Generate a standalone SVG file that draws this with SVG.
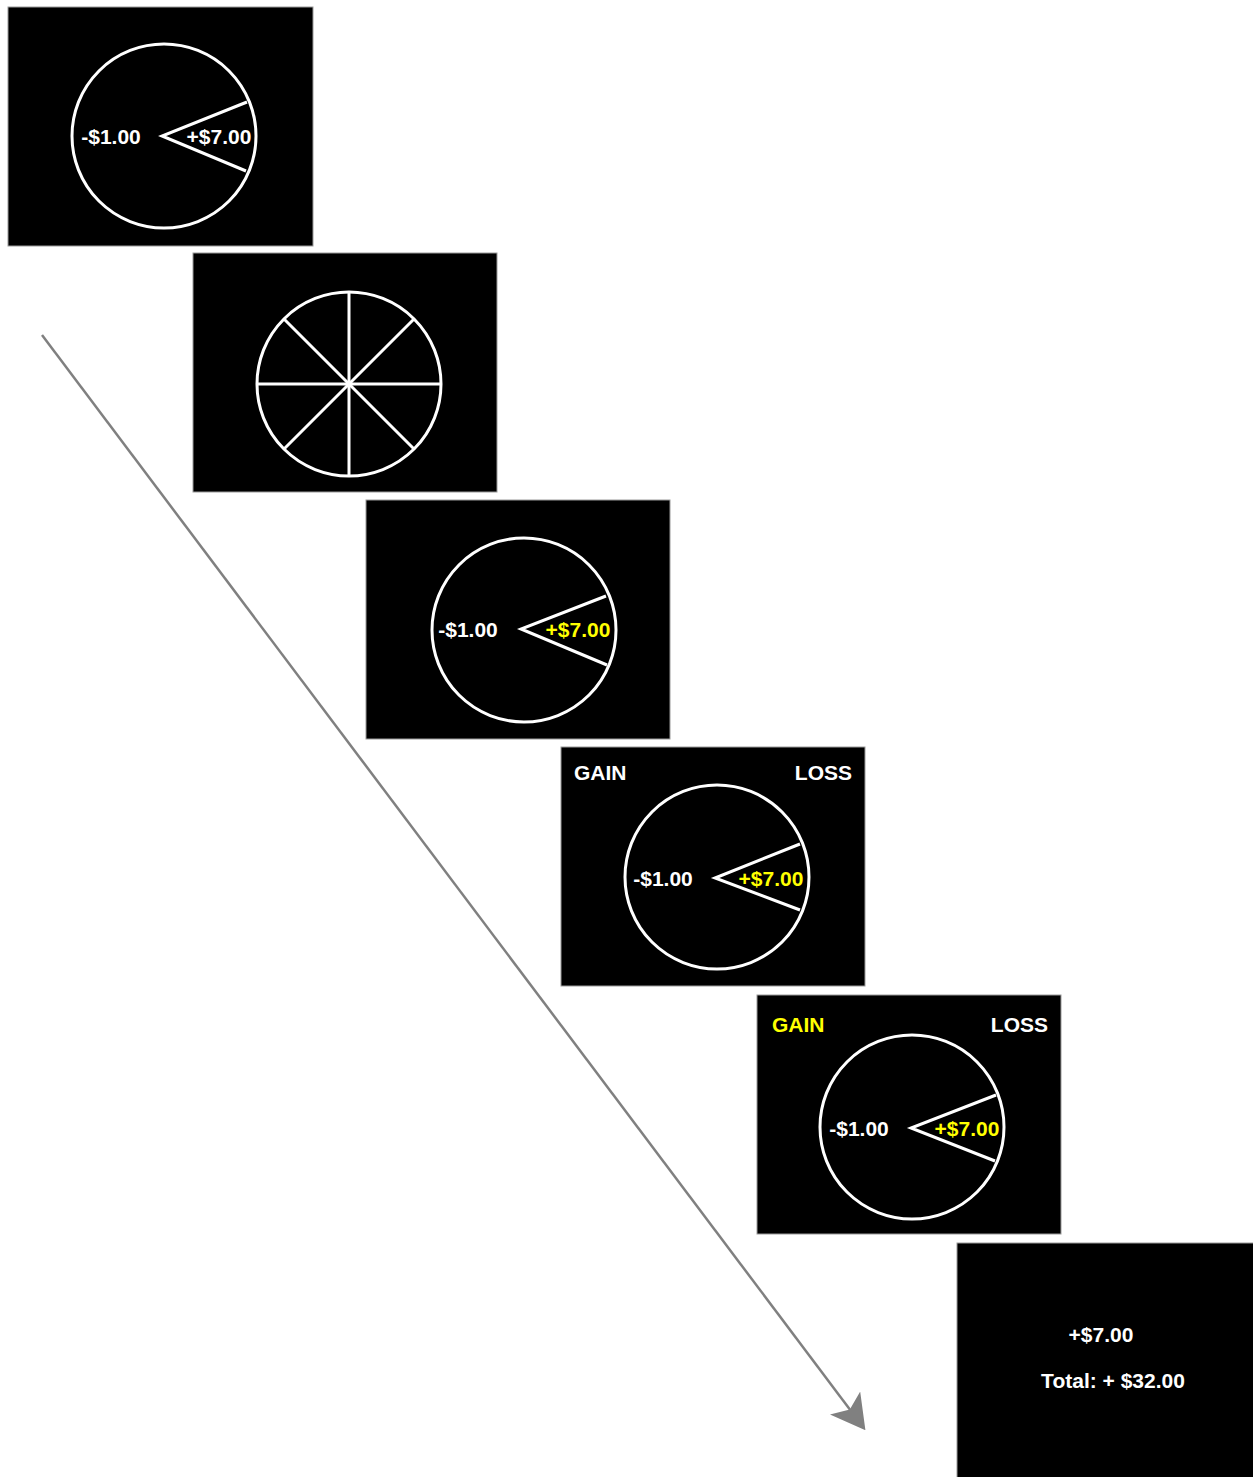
<svg xmlns="http://www.w3.org/2000/svg" width="1253" height="1477" viewBox="0 0 1253 1477">
  <style>
    .screen { fill: #000; stroke: #9a9a9a; stroke-width: 1; }
    .ring { fill: none; stroke: #fff; stroke-width: 3; }
    .wedge { fill: none; stroke: #fff; stroke-width: 3; stroke-linejoin: miter; }
    .spoke { stroke: #fff; stroke-width: 3; }
    .lbl { font-family: "Liberation Sans", Arial, sans-serif; font-weight: bold; font-size: 21px; fill: #fff; dominant-baseline: central; }
    .hi { fill: #ffff00; }
    .flow { stroke: #808080; stroke-width: 2.5; fill: none; }
  </style>
  <defs>
    <marker id="head" viewBox="0 0 34 38" refX="10" refY="19" markerWidth="34" markerHeight="38" markerUnits="userSpaceOnUse" orient="auto">
      <path d="M0,0 L34,19 L0,38 L8,19 Z" fill="#808080"/>
    </marker>
  </defs>

  <!-- trial time line -->
  <g id="connectors">
    <line class="flow" x1="42" y1="335" x2="851" y2="1411" marker-end="url(#head)"/>
  </g>

  <!-- 1: wheel with outcomes -->
  <g id="screen1">
    <rect class="screen" x="8" y="7" width="305" height="239"/>
    <circle class="ring" cx="164" cy="136" r="92"/>
    <polyline class="wedge" points="247,102 162,136 246,171"/>
    <text class="lbl" x="111" y="136" text-anchor="middle">-$1.00</text>
    <text class="lbl" x="219" y="136" text-anchor="middle">+$7.00</text>
  </g>

  <!-- 2: spinning wheel -->
  <g id="screen2">
    <rect class="screen" x="193" y="253" width="304" height="239"/>
    <circle class="ring" cx="349" cy="384" r="92"/>
    <line class="spoke" x1="349" y1="292" x2="349" y2="476"/>
    <line class="spoke" x1="257" y1="384" x2="441" y2="384"/>
    <line class="spoke" x1="284" y1="319" x2="414" y2="449"/>
    <line class="spoke" x1="414" y1="319" x2="284" y2="449"/>
  </g>

  <!-- 3: wheel stops on the gain -->
  <g id="screen3">
    <rect class="screen" x="366" y="500" width="304" height="239"/>
    <circle class="ring" cx="524" cy="630" r="92"/>
    <polyline class="wedge" points="606,596 521,629 607,665"/>
    <text class="lbl" x="468" y="629" text-anchor="middle">-$1.00</text>
    <text class="lbl hi" x="578" y="629" text-anchor="middle">+$7.00</text>
  </g>

  <!-- 4: response prompt -->
  <g id="screen4">
    <rect class="screen" x="561" y="747" width="304" height="239"/>
    <circle class="ring" cx="717" cy="877" r="92"/>
    <polyline class="wedge" points="800,844 715,878 800,910"/>
    <text class="lbl" x="574" y="772">GAIN</text>
    <text class="lbl" x="852" y="772" text-anchor="end">LOSS</text>
    <text class="lbl" x="663" y="878" text-anchor="middle">-$1.00</text>
    <text class="lbl hi" x="771" y="878" text-anchor="middle">+$7.00</text>
  </g>

  <!-- 5: response selected -->
  <g id="screen5">
    <rect class="screen" x="757" y="995" width="304" height="239"/>
    <circle class="ring" cx="912" cy="1127" r="92"/>
    <polyline class="wedge" points="996,1095 911,1128 995,1161"/>
    <text class="lbl hi" x="772" y="1024">GAIN</text>
    <text class="lbl" x="1048" y="1024" text-anchor="end">LOSS</text>
    <text class="lbl" x="859" y="1128" text-anchor="middle">-$1.00</text>
    <text class="lbl hi" x="967" y="1128" text-anchor="middle">+$7.00</text>
  </g>

  <!-- 6: feedback -->
  <g id="screen6">
    <rect class="screen" x="957" y="1243" width="300" height="240"/>
    <text class="lbl" x="1101" y="1334" text-anchor="middle">+$7.00</text>
    <text class="lbl" x="1113" y="1380" text-anchor="middle">Total: + $32.00</text>
  </g>
</svg>
